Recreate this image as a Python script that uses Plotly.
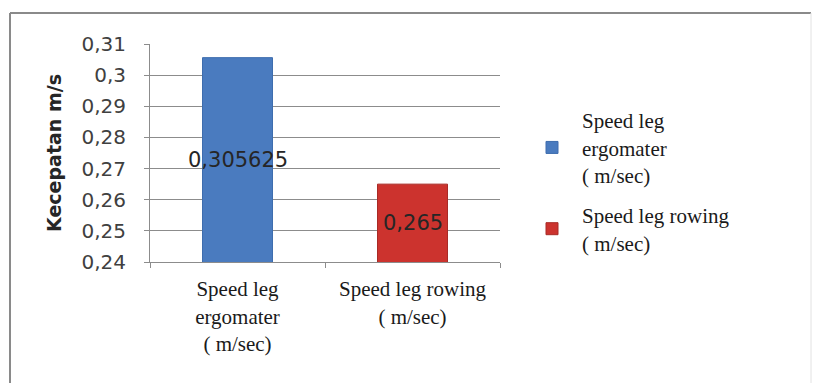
import plotly.graph_objects as go

# Data
categories = ["Speed leg<br>ergomater<br>( m/sec)", "Speed leg rowing<br>( m/sec)"]
series_names = ["Speed leg<br>ergomater<br>( m/sec)", "Speed leg rowing<br>( m/sec)"]
values = [0.305625, 0.265]
colors = ["#4A7BBF", "#CC332E"]
line_colors = ["#3E6DAE", "#A82A26"]
y_range = [0.24, 0.31]

W, H = 814, 383
L, R, T, B = 150, 314, 44, 121
pw, ph = W - L - R, H - T - B

fig = go.Figure()
for i, (cat, name, v) in enumerate(zip(categories, series_names, values)):
    fig.add_trace(go.Bar(
        x=[cat], y=[v], name=name, legendgroup=f"g{i}",
        marker=dict(color=colors[i], line=dict(color=line_colors[i], width=1)),
        width=0.4,
    ))
    # value label centred on the bar body
    fig.add_annotation(
        x=cat, y=(y_range[0] + v) / 2, xref="x", yref="y",
        text=f"{v:g}".replace(".", ","), showarrow=False,
        font=dict(family="DejaVu Sans", size=21, color="#262626"),
    )


def px_x(p):
    return (p - L) / pw


def px_y(p):
    return (H - B - p) / ph


grey = "#8C8C8C"
shapes = [
    dict(type="line", xref="paper", yref="paper", x0=px_x(10), x1=px_x(811), y0=px_y(13), y1=px_y(13),
         line=dict(color="#8A8A8A", width=2)),
    dict(type="line", xref="paper", yref="paper", x0=px_x(10), x1=px_x(10), y0=px_y(13), y1=px_y(400),
         line=dict(color="#8A8A8A", width=2)),
    dict(type="line", xref="paper", yref="paper", x0=px_x(811), x1=px_x(811), y0=px_y(13), y1=px_y(400),
         line=dict(color="#E2E2E2", width=1)),
]

fig.update_layout(
    width=W, height=H,
    margin=dict(l=L, r=R, t=T, b=B),
    paper_bgcolor="white", plot_bgcolor="white",
    separators=", ",
    barmode="overlay",
    showlegend=True,
    legend=dict(
        x=px_x(522), y=px_y(100), xanchor="left", yanchor="top",
        font=dict(family="Liberation Serif", size=21, color="#1a1a1a"),
        itemwidth=50, traceorder="grouped", tracegroupgap=10, valign="middle",
        bgcolor="rgba(0,0,0,0)",
    ),
    xaxis=dict(
        type="category",
        showline=True, linecolor=grey, linewidth=1,
        ticks="outside", tickson="boundaries", ticklen=5, tickcolor=grey,
        showgrid=False,
        tickfont=dict(family="Liberation Serif", size=21, color="#1a1a1a"),
        ticklabelstandoff=8,
    ),
    yaxis=dict(
        range=y_range, dtick=0.01, tick0=0.24,
        showline=True, linecolor=grey, linewidth=1,
        showgrid=True, gridcolor=grey, gridwidth=1,
        ticks="outside", ticklen=5, tickcolor=grey,
        tickfont=dict(family="DejaVu Sans", size=20, color="#404040"),
        ticklabelstandoff=14,
        zeroline=False,
        title=dict(text="<b>Kecepatan m/s</b>", standoff=14,
                   font=dict(family="DejaVu Sans", size=19, color="#262626")),
    ),
    shapes=shapes,
)

fig.write_html("out.html")
